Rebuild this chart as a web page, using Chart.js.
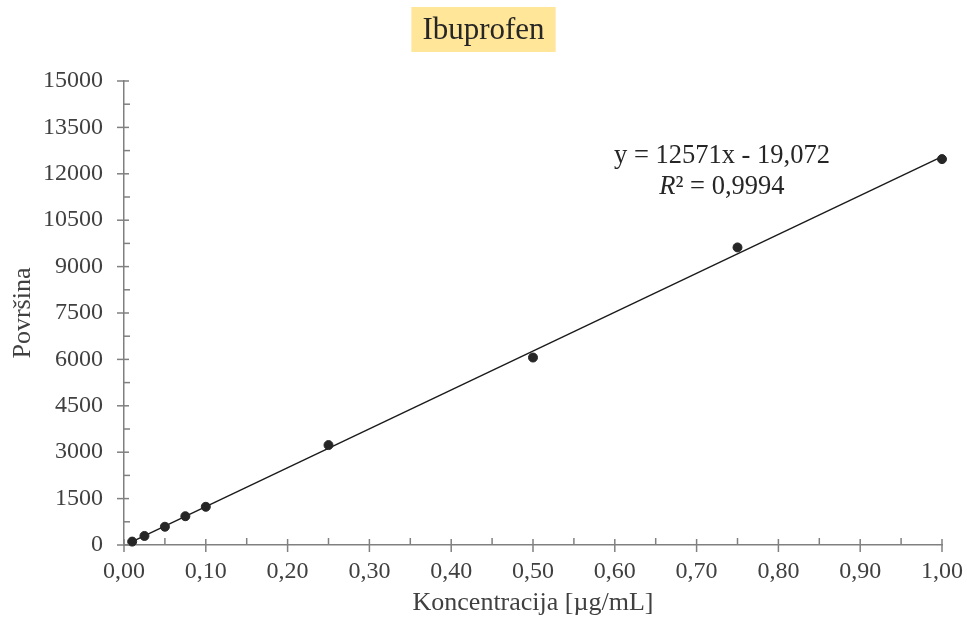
<!DOCTYPE html>
<html>
<head>
<meta charset="utf-8">
<script src="https://cdn.jsdelivr.net/npm/chart.js@4.4.1/dist/chart.umd.min.js"></script>
<style>
  html, body { margin: 0; padding: 0; background: #ffffff; }
  #wrap { width: 967px; height: 622px; }
</style>
</head>
<body>
<div id="wrap"><canvas id="myChart" width="967" height="622"></canvas></div>
<script>
// podaci za kalibracijsku krivulju
const concentrations = [0.01, 0.025, 0.05, 0.075, 0.10, 0.25, 0.50, 0.75, 1.00];
const areas = [110, 292, 590, 930, 1235, 3230, 6060, 9620, 12475];

// jednadzba pravca (trendline) kako je ispisana na grafu
const slope = 12571;
const intercept = -19.072;
const trendX = [0.01, 1.00];
const equationText = 'y = 12571x - 19,072';
const r2Text = '² = 0,9994';

const titleText = 'Ibuprofen';
const xTitle = 'Koncentracija [µg/mL]';
const yTitle = 'Površina';

const serif = '"Liberation Serif", "Times New Roman", serif';
const axisGray = '#808080';
const textColor = '#404040';

// crtanje kvacica, naslova i jednadzbe
const extrasPlugin = {
  id: 'extras',
  afterDraw(chart) {
    const ctx = chart.ctx;
    const xs = chart.scales.x;
    const ys = chart.scales.y;
    const axisY = ys.getPixelForValue(0);
    const axisX = xs.getPixelForValue(0);
    ctx.save();
    ctx.strokeStyle = axisGray;
    ctx.lineWidth = 1.5;
    // y os: glavne kvacice (kroz os) i sporedne (unutra)
    for (let v = 0; v <= 15000; v += 750) {
      const p = ys.getPixelForValue(v);
      ctx.beginPath();
      if (v % 1500 === 0) {
        ctx.moveTo(axisX - 7, p); ctx.lineTo(axisX + 5, p);
      } else {
        ctx.moveTo(axisX, p); ctx.lineTo(axisX + 6, p);
      }
      ctx.stroke();
    }
    // x os
    for (let i = 0; i <= 20; i++) {
      const p = xs.getPixelForValue(i * 0.05);
      ctx.beginPath();
      if (i % 2 === 0) {
        ctx.moveTo(p, axisY - 6); ctx.lineTo(p, axisY + 7);
      } else {
        ctx.moveTo(p, axisY); ctx.lineTo(p, axisY - 7);
      }
      ctx.stroke();
    }

    // naslov sa zutom pozadinom
    ctx.font = '31px ' + serif;
    const tw = ctx.measureText(titleText).width;
    const cx = chart.width / 2;
    ctx.fillStyle = '#FFE699';
    ctx.fillRect(cx - tw / 2 - 11, 7, tw + 22, 45);
    ctx.fillStyle = '#262626';
    ctx.textAlign = 'center';
    ctx.textBaseline = 'middle';
    ctx.fillText(titleText, cx, 31);

    // jednadzba i R2
    const fs = '26.5px ';
    ctx.font = fs + serif;
    const ex = xs.getPixelForValue(0.731);
    ctx.fillText(equationText, ex, ys.getPixelForValue(12570));
    const ry = ys.getPixelForValue(11560);
    ctx.font = 'italic ' + fs + serif;
    const rw = ctx.measureText('R').width;
    ctx.font = fs + serif;
    const restW = ctx.measureText(r2Text).width;
    const start = ex - (rw + restW) / 2;
    ctx.textAlign = 'left';
    ctx.font = 'italic ' + fs + serif;
    ctx.fillText('R', start, ry);
    ctx.font = fs + serif;
    ctx.fillText(r2Text, start + rw, ry);
    ctx.restore();
  }
};

const ctx = document.getElementById('myChart');

const pointData = concentrations.map((c, i) => ({ x: c, y: areas[i] }));
const trendData = trendX.map(x => ({ x: x, y: slope * x + intercept }));

new Chart(ctx, {
  type: 'scatter',
  data: {
    datasets: [{
      label: 'trend',
      data: trendData,
      showLine: true,
      borderColor: '#1a1a1a',
      borderWidth: 1.4,
      pointRadius: 0,
      clip: false,
      order: 2
    }, {
      label: titleText,
      data: pointData,
      pointRadius: 4.5,
      pointBackgroundColor: '#262626',
      pointBorderColor: '#262626',
      clip: false,
      order: 1
    }]
  },
  options: {
    responsive: false,
    animation: false,
    layout: { padding: { top: 81, right: 25, left: 0, bottom: 0 } },
    plugins: {
      legend: { display: false },
      title: { display: false },
      tooltip: { enabled: false }
    },
    scales: {
      x: {
        type: 'linear',
        min: 0,
        max: 1,
        grid: { display: true, drawOnChartArea: false, drawTicks: false },
        border: { display: true, color: axisGray, width: 1.5 },
        ticks: {
          stepSize: 0.1,
          padding: 12,
          color: textColor,
          font: { family: serif, size: 24 },
          maxRotation: 0,
          callback: v => v.toFixed(2).replace('.', ',')
        },
        title: {
          display: true,
          text: xTitle,
          color: textColor,
          font: { family: serif, size: 26 },
          padding: { top: 4, bottom: 3 }
        },
        afterFit(scale) {
          scale.height = 77;
          scale.paddingRight = 0;
        }
      },
      y: {
        type: 'linear',
        min: 0,
        max: 15000,
        grid: { display: true, drawOnChartArea: false, drawTicks: false },
        border: { display: true, color: axisGray, width: 1.5 },
        ticks: {
          stepSize: 1500,
          padding: 21,
          color: textColor,
          font: { family: serif, size: 24 },
          callback: v => String(v)
        },
        title: {
          display: true,
          text: yTitle,
          color: textColor,
          font: { family: serif, size: 26 },
          padding: { top: 8, bottom: 4 }
        },
        afterFit(scale) {
          scale.width = 124;
          scale.paddingTop = 0;
        }
      }
    }
  },
  plugins: [extrasPlugin]
});
</script>
</body>
</html>
